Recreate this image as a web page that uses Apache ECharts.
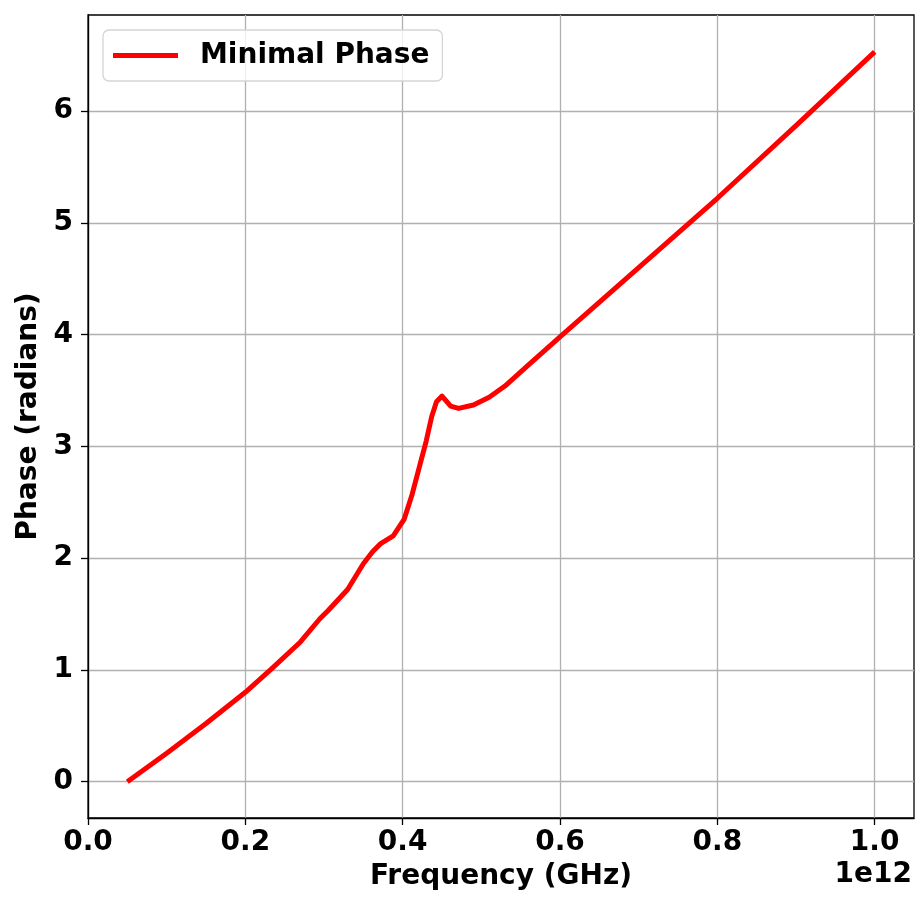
<!DOCTYPE html>
<html>
<head>
<meta charset="utf-8">
<script src="https://cdn.jsdelivr.net/npm/echarts@6/dist/echarts.min.js"></script>
<style>
  html, body { margin: 0; padding: 0; background: #fff; }
  #chart { width: 916px; height: 898px; }
</style>
</head>
<body>
<div id="chart"></div>
<script>
// Frequency in units of 1e12 Hz (axis offset shown as "1e12")
const frequency = [0.05, 0.1, 0.15, 0.2, 0.235, 0.27, 0.295, 0.305, 0.33, 0.35, 0.362,
  0.372, 0.388, 0.402, 0.412, 0.421, 0.43, 0.437, 0.443, 0.45, 0.461, 0.471, 0.49, 0.51,
  0.53, 0.56, 0.6, 0.7, 0.8, 0.9, 1.0];
// Minimal phase in radians
const phase = [0, 0.255, 0.52, 0.80, 1.02, 1.25, 1.46, 1.53, 1.72, 1.95, 2.06,
  2.13, 2.20, 2.35, 2.57, 2.81, 3.05, 3.27, 3.40, 3.45, 3.36, 3.34, 3.37, 3.44,
  3.54, 3.73, 3.98, 4.60, 5.22, 5.87, 6.53];
const xTicks = [0, 0.2, 0.4, 0.6, 0.8, 1.0];
const yTicks = [0, 1, 2, 3, 4, 5, 6];
const seriesName = 'Minimal Phase';
const xTitle = 'Frequency (GHz)';
const yTitle = 'Phase (radians)';
const xOffsetText = '1e12';

const FONT = 'DejaVu Sans';
const chart = echarts.init(document.getElementById('chart'), null, { renderer: 'canvas' });

const axisCommon = {
  axisLine: { show: true, onZero: false, lineStyle: { color: '#000', width: 1.3 } },
  axisTick: { show: true, inside: false, length: 7, lineStyle: { color: '#000', width: 1.3 } },
  splitLine: { show: true, lineStyle: { color: '#b0b0b0', width: 1.3 } },
  nameTextStyle: { fontFamily: FONT, fontSize: 28, fontWeight: 'bold', color: '#000' }
};

chart.setOption({
  animation: false,
  backgroundColor: '#fff',
  grid: {
    left: 88, right: 2, top: 15, bottom: 80,
    show: true, borderColor: '#000', borderWidth: 1.3, backgroundColor: 'transparent'
  },
  legend: {
    show: true,
    left: 103, top: 30,
    padding: [10, 13, 10, 10],
    icon: 'rect',
    itemWidth: 65, itemHeight: 5,
    backgroundColor: 'rgba(255,255,255,0.8)',
    borderColor: '#d5d5d5', borderWidth: 1.3, borderRadius: 6,
    textStyle: { fontFamily: FONT, fontSize: 28, fontWeight: 'bold', color: '#000',
      lineHeight: 31, padding: [0, 0, 0, 17] },
    data: [seriesName]
  },
  xAxis: Object.assign({}, axisCommon, {
    type: 'value',
    min: 0, max: 1.05, interval: 0.2,
    name: xTitle, nameLocation: 'middle', nameGap: 45,
    axisTick: Object.assign({}, axisCommon.axisTick, { customValues: xTicks }),
    axisLabel: {
      customValues: xTicks,
      margin: 11,
      fontFamily: FONT, fontSize: 28, fontWeight: 'bold', color: '#000',
      formatter: v => v.toFixed(1)
    }
  }),
  yAxis: Object.assign({}, axisCommon, {
    type: 'value',
    min: -0.325, max: 6.86, splitNumber: 7,
    name: yTitle, nameLocation: 'middle', nameGap: 43,
    axisTick: Object.assign({}, axisCommon.axisTick, { customValues: yTicks }),
    axisLabel: {
      customValues: yTicks,
      margin: 15,
      fontFamily: FONT, fontSize: 28, fontWeight: 'bold', color: '#000',
      formatter: v => String(v)
    }
  }),
  graphic: [{
    type: 'text',
    right: 4, top: 861,
    style: { text: xOffsetText, fontFamily: FONT, fontSize: 28, fontWeight: 'bold', fill: '#000' }
  }],
  series: [{
    name: seriesName,
    type: 'line',
    data: frequency.map((f, i) => [f, phase[i]]),
    showSymbol: false,
    smooth: false,
    itemStyle: { color: '#ff0000' },
    lineStyle: { color: '#ff0000', width: 5, join: 'round' },
    z: 5
  }]
});
</script>
</body>
</html>
